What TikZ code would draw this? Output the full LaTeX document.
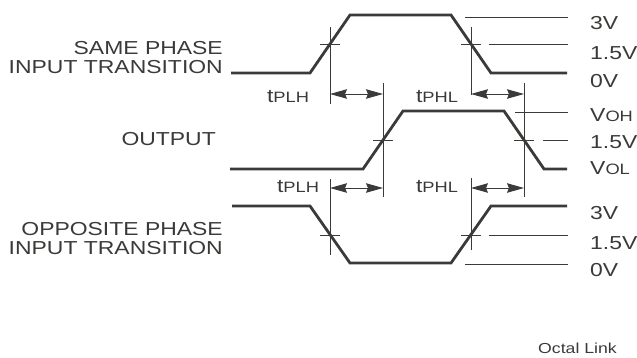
\documentclass[tikz,border=0pt]{standalone}
\usepackage{fontspec}
\setmainfont{Liberation Sans}[FakeStretch=1.22]
\usetikzlibrary{arrows.meta}
\definecolor{ink}{HTML}{3A3A38}
\newcommand{\lo}[1]{{\fontsize{15}{15}\selectfont #1}}

\begin{document}
\begin{tikzpicture}[x=1pt,y=-1pt]
\tikzset{ >={Stealth[length=17pt,width=9.5pt,inset=2pt]},
  wave/.style={ink, line width=2.8pt},
  guide/.style={ink, line width=0.9pt},
  span/.style={ink, line width=0.9pt, <->},
  lbl/.style={text=ink, inner sep=0pt, font=\fontsize{18.8}{18.8}\selectfont},
}
\useasboundingbox (0,0) rectangle (637,358);

% crossings at 1.5V
\coordinate (SR) at (330,44);
\coordinate (SF) at (471,44);
\coordinate (OR) at (383,140);
\coordinate (OF) at (524,140);
\coordinate (PF) at (330,235);
\coordinate (PR) at (471,235);

% waveforms
\draw [wave] (231,73)  -- (310,73)  -- (350,15)  -- (451,15)  -- (491,73)  -- (567,73);
\draw [wave] (230,169) -- (363,169) -- (403,111) -- (504,111) -- (544,169) -- (567,169);
\draw [wave] (232,206) -- (310,206) -- (350,263) -- (451,263) -- (491,206) -- (567,206);

% vertical markers
\draw [guide] (SR |- 0,27)  -- (SR |- 0,104);
\draw [guide] (PF |- 0,179) -- (PF |- 0,255);
\draw [guide] (OR |- 0,83)  -- (OR |- 0,197);
\draw [guide] (SF |- 0,27)  -- (SF |- 0,95);
\draw [guide] (PR |- 0,178) -- (PR |- 0,250);
\draw [guide] (OF |- 0,83)  -- (OF |- 0,197);

% crosshair ticks
\foreach \c in {SR,SF,OR,OF,PF,PR}
  \draw [guide] ([xshift=-10pt]\c) -- ([xshift=10pt]\c);

% level lines
\draw [guide] (465,17)  -- (568,17);
\draw [guide] (489,44)  -- (568,44);
\draw [guide] (515,112) -- (568,112);
\draw [guide] (543,140) -- (568,140);
\draw [guide] (489,235) -- (568,235);
\draw [guide] (465,264) -- (568,264);

% delays
\draw [span] (SR |- 0,94)  -- (OR |- 0,94);
\draw [span] (SF |- 0,94)  -- (OF |- 0,94);
\draw [span] (PF |- 0,188) -- (OR |- 0,188);
\draw [span] (PR |- 0,188) -- (OF |- 0,188);

\node [lbl] (tplh1) at (288,96)  {t\lo{PLH}};
\node [lbl] (tphl1) at (437,96)  {t\lo{PHL}};
\node [lbl] (tplh2) at (298,186) {t\lo{PLH}};
\node [lbl] (tphl2) at (437,186) {t\lo{PHL}};

% signal names
\node [lbl, anchor=east] (same1) at (223,48)  {SAME PHASE};
\node [lbl, anchor=east] (same2) at (223,67)  {INPUT TRANSITION};
\node [lbl, anchor=east] (out)   at (216,139) {OUTPUT};
\node [lbl, anchor=east] (opp1)  at (223,229) {OPPOSITE PHASE};
\node [lbl, anchor=east] (opp2)  at (223,248) {INPUT TRANSITION};

% levels
\node [lbl, anchor=west] (l3a)  at (590,23)  {3V};
\node [lbl, anchor=west] (l15a) at (590,53)  {1.5V};
\node [lbl, anchor=west] (l0a)  at (590,81)  {0V};
\node [lbl, anchor=west] (loh)  at (590,115) {V\lo{OH}};
\node [lbl, anchor=west] (l15b) at (590,142) {1.5V};
\node [lbl, anchor=west] (lol)  at (590,168) {V\lo{OL}};
\node [lbl, anchor=west] (l3b)  at (590,213) {3V};
\node [lbl, anchor=west] (l15c) at (590,243) {1.5V};
\node [lbl, anchor=west] (l0b)  at (590,270) {0V};

\node [text=ink, inner sep=0pt, font=\fontsize{14.5}{14.5}\selectfont, anchor=east] (tag) at (617,348) {Octal Link};
\end{tikzpicture}
\end{document}
